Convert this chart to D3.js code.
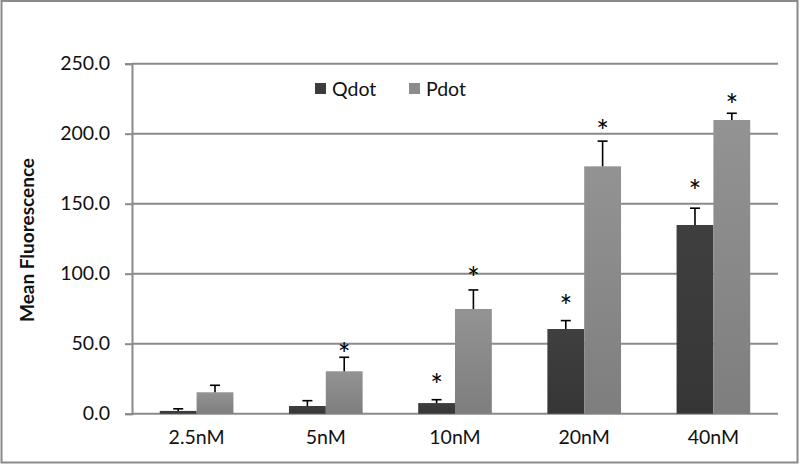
<!DOCTYPE html>
<html><head><meta charset="utf-8">
<script src="https://cdn.jsdelivr.net/npm/d3@7"></script>
<style>body{margin:0;background:#fff}svg{display:block}text{font-family:Lato,"Open Sans",sans-serif}</style>
</head><body><svg id="c" width="800" height="464"></svg>
<script>
const categories = ["2.5nM","5nM","10nM","20nM","40nM"];
const seriesNames = ["Qdot","Pdot"];
const qdotValues = [2.0, 5.5, 7.6, 60.5, 134.8];
const pdotValues = [15.3, 30.3, 74.8, 176.7, 209.8];
const qdotErrors = [1.5, 3.8, 2.4, 6.0, 12.0];
const pdotErrors = [5.0, 10.0, 13.6, 18.0, 4.8];
const qdotStar = [null, null, 25.5, 82, 164];
const pdotStar = [null, 47.6, 102, 207, 225.5];
const yTicks = [0, 50, 100, 150, 200, 250];

const svg = d3.select("#c");
const W = 800, H = 464;
const m = {left:132, right:22, top:63.7, bottom:50.3};
const x0 = d3.scaleBand().domain(categories).range([m.left, W-m.right]).paddingInner(0.43).paddingOuter(0.215);
const x1 = d3.scaleBand().domain(seriesNames).range([0, x0.bandwidth()]);
const y = d3.scaleLinear().domain([0,250]).range([H-m.bottom, m.top]);

// frame
svg.append("rect").attr("x",1.5).attr("y",1).attr("width",796).attr("height",461.5)
  .attr("fill","none").attr("stroke","#8a8a8a").attr("stroke-width",2);

const defs = svg.append("defs");
function grad(id, c1, c2){
  const g = defs.append("linearGradient").attr("id",id).attr("x1",0).attr("y1",0).attr("x2",0).attr("y2",1);
  g.append("stop").attr("offset","0%").attr("stop-color",c1);
  g.append("stop").attr("offset","100%").attr("stop-color",c2);
}
grad("gq","#3f3f3f","#363636");
grad("gp","#939393","#7e7e7e");
const fills = {Qdot:"url(#gq)", Pdot:"url(#gp)"};
const legendFill = {Qdot:"#3c3c3c", Pdot:"#8c8c8c"};

// gridlines + y axis
const yAxis = d3.axisLeft(y).tickValues(yTicks).tickFormat(d3.format(".1f")).tickSize(7).tickPadding(15);
const ga = svg.append("g").attr("transform",`translate(${m.left},0)`).call(yAxis);
ga.select(".domain").attr("stroke","#8a8a8a").attr("stroke-width",2);
ga.selectAll(".tick line").attr("stroke","#8a8a8a").attr("stroke-width",2);
ga.selectAll(".tick text").attr("font-size",19.5).attr("fill","#111").attr("font-family","Lato");
svg.append("g").selectAll("line").data(yTicks).join("line")
  .attr("x1",m.left).attr("x2",W-m.right).attr("y1",d=>y(d)).attr("y2",d=>y(d))
  .attr("stroke","#8a8a8a").attr("stroke-width",2);

// x axis labels
const xAxis = d3.axisBottom(x0).tickSize(0).tickPadding(16);
const gx = svg.append("g").attr("transform",`translate(0,${y(0)})`).call(xAxis);
gx.select(".domain").remove();
gx.selectAll(".tick text").attr("font-size",19.5).attr("fill","#111").attr("font-family","Lato");

const rows = categories.map((c,i)=>({c, vals:[
  {s:"Qdot", v:qdotValues[i], e:qdotErrors[i], st:qdotStar[i]},
  {s:"Pdot", v:pdotValues[i], e:pdotErrors[i], st:pdotStar[i]}]}));

const g = svg.append("g").selectAll("g").data(rows).join("g")
  .attr("transform",d=>`translate(${x0(d.c)},0)`);
g.selectAll("rect").data(d=>d.vals).join("rect")
  .attr("x",d=>x1(d.s)).attr("width",x1.bandwidth())
  .attr("y",d=>y(d.v)).attr("height",d=>y(0)-y(d.v)).attr("fill",d=>fills[d.s]);
// error bars
const eb = g.selectAll("g.eb").data(d=>d.vals).join("g").attr("class","eb");
eb.append("line").attr("x1",d=>x1(d.s)+x1.bandwidth()/2).attr("x2",d=>x1(d.s)+x1.bandwidth()/2)
  .attr("y1",d=>y(d.v)).attr("y2",d=>y(d.v+d.e)).attr("stroke","#000").attr("stroke-width",1.6);
eb.append("line").attr("x1",d=>x1(d.s)+x1.bandwidth()/2-5).attr("x2",d=>x1(d.s)+x1.bandwidth()/2+5)
  .attr("y1",d=>y(d.v+d.e)).attr("y2",d=>y(d.v+d.e)).attr("stroke","#000").attr("stroke-width",1.6);
// stars
g.selectAll("text.star").data(d=>d.vals.filter(v=>v.st!=null)).join("text").attr("class","star")
  .attr("x",d=>x1(d.s)+x1.bandwidth()/2).attr("y",d=>y(d.st)+18)
  .attr("text-anchor","middle").attr("font-size",30).attr("fill","#000").attr("font-family","DejaVu Sans").text("*");

// legend
const lg = svg.append("g");
const lx = [315, 409];
seriesNames.forEach((s,i)=>{
  lg.append("rect").attr("x",lx[i]).attr("y",83).attr("width",11).attr("height",11).attr("fill",legendFill[s]);
  lg.append("text").attr("x",lx[i]+17).attr("y",95.5).attr("font-size",19.5).attr("fill","#111").text(s);
});

// y label
svg.append("text").attr("transform","translate(34,240) rotate(-90)").attr("text-anchor","middle")
  .attr("font-size",19).attr("font-weight","bold").attr("fill","#111").text("Mean Fluorescence");
</script></body></html>
